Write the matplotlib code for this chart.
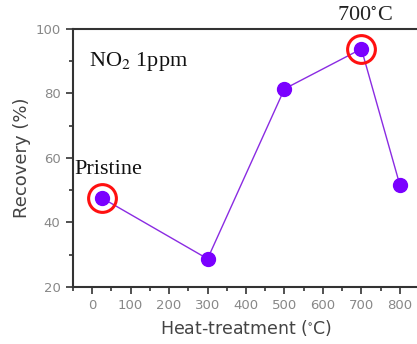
import numpy as np
import matplotlib
matplotlib.use("Agg")
import matplotlib.pyplot as plt
from matplotlib.ticker import MultipleLocator

plt.rcParams["mathtext.fontset"] = "stix"

temps = [25, 300, 500, 700, 800]
recovery = [47.6, 28.7, 81.4, 93.8, 51.6]
highlight = [0, 3]

fig = plt.figure(figsize=(4.17, 3.44), dpi=100)
ax = fig.add_axes([0.175, 0.166, 0.83, 0.75])

ax.plot(temps, recovery, color="#8a2be2", linewidth=1.0, zorder=2)
ax.plot(temps, recovery, linestyle="none", marker="o", markersize=10,
        markerfacecolor="#7a00ff", markeredgecolor="#7a00ff", zorder=3)
ax.plot([temps[i] for i in highlight], [recovery[i] for i in highlight],
        linestyle="none", marker="o", markersize=20, markerfacecolor="none",
        markeredgecolor="#ff1010", markeredgewidth=2.2, zorder=4, clip_on=False)

ax.text(temps[0] - 72, recovery[0] + 7.5, "Pristine", fontsize=16,
        family="Liberation Serif", color="#111111")
ax.text(temps[3] + 8, 100.8, "700$^{\\circ}$C", fontsize=16, ha="center",
        va="bottom", family="Liberation Serif", color="#222222")
ax.text(0.045, 0.875, "NO$_2$ 1ppm", transform=ax.transAxes, fontsize=16,
        family="Liberation Serif", color="#111111", va="center")

ax.set_xlim(-50, 850)
ax.set_ylim(20, 100)
ax.xaxis.set_major_locator(MultipleLocator(100))
ax.xaxis.set_minor_locator(MultipleLocator(50))
ax.yaxis.set_major_locator(MultipleLocator(20))
ax.yaxis.set_minor_locator(MultipleLocator(10))
ax.tick_params(which="both", direction="out", color="#333333", width=1.2)
ax.tick_params(which="major", length=5, labelsize=9.5, labelcolor="#888888", pad=4)
ax.tick_params(which="minor", length=3)
for s in ax.spines.values():
    s.set_linewidth(1.5)
    s.set_color("#333333")

ax.set_xlabel("Heat-treatment ($^{\\circ}$C)", fontsize=12.5, color="#444444", labelpad=4)
ax.set_ylabel("Recovery (%)", fontsize=13, color="#444444", labelpad=3)

fig.savefig("out.png", dpi=100)
